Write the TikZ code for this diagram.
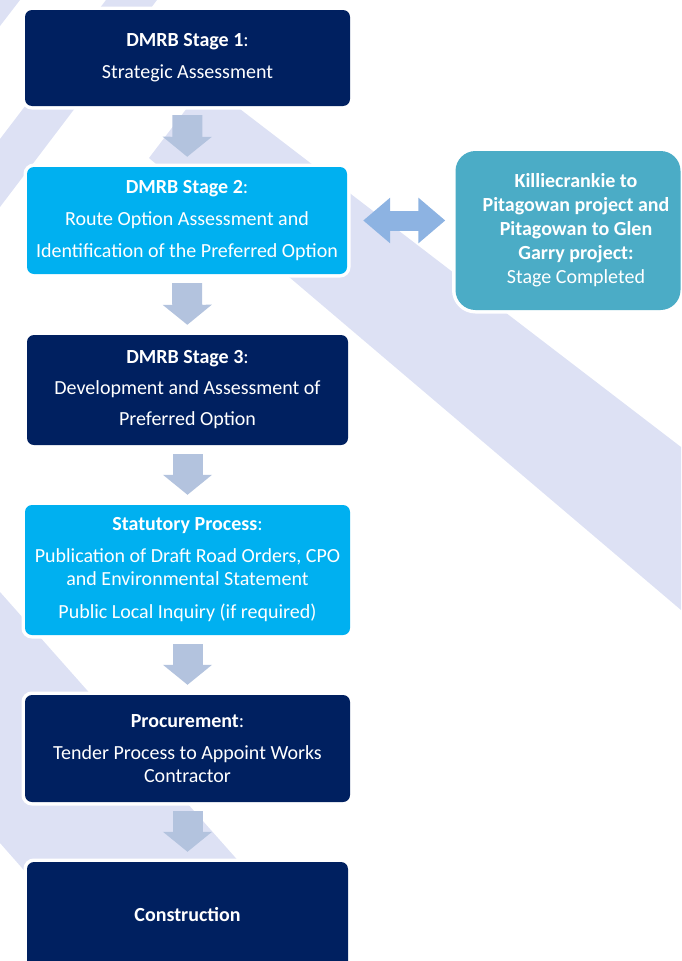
\documentclass[tikz,border=0pt]{standalone}
\usepackage{fontspec}
\setmainfont{Carlito}
\usetikzlibrary{arrows.meta}

\definecolor{stagenavy}{HTML}{002060}
\definecolor{stagesky}{HTML}{00B0F0}
\definecolor{stageteal}{HTML}{4BACC6}
\definecolor{bandlav}{HTML}{DDE1F4}
\definecolor{flowblue}{HTML}{B3C3DE}
\definecolor{linkblue}{HTML}{8DB3E2}

\begin{document}
\begin{tikzpicture}[x=1pt, y=-1pt]
\tikzset{ stagebox/.style={rounded corners=7pt, inner sep=0pt, text=white, align=center,
            font=\fontsize{20}{23}\selectfont, preaction={draw=white, line width=7pt}},
          flowarrow/.style={draw=flowblue, line width=30pt, -{Triangle[width=48pt,length=20pt]},
            shorten <=9pt, shorten >=10pt},
          linkarrow/.style={draw=linkblue, line width=20pt,
            {Triangle[width=44pt,length=27pt]}-{Triangle[width=44pt,length=27pt]},
            shorten <=16pt, shorten >=10pt} }
\useasboundingbox (0,0) rectangle (681,961);
%\draw [lightgray, dashed](0,0) grid[step=50] (681,961);

% background bands
\fill [bandlav] (0,0) -- (20,0) -- (0,26) -- cycle;
\fill [bandlav] (106,0) -- (157,0) -- (0,207) -- (0,139) -- cycle;
\fill [bandlav] (206,83) -- (681,447) -- (681,610) -- (149,158) -- cycle;
\fill [bandlav] (0,592) -- (327,961) -- (104,961) -- (0,843) -- cycle;

\node [stagebox, fill=stagenavy, minimum width=325pt, minimum height=96pt] (s1) at (187.5,58)
  {\textbf{DMRB Stage 1}:\\[9pt] Strategic Assessment};
\node [stagebox, fill=stagesky, minimum width=320pt, minimum height=107pt] (s2) at (187,220.5)
  {\textbf{DMRB Stage 2}:\\[9pt] Route Option Assessment and\\[9pt] Identification of the Preferred Option};
\node [stagebox, fill=stagenavy, minimum width=321pt, minimum height=110pt] (s3) at (187.5,390)
  {\textbf{DMRB Stage 3}:\\[8pt] Development and Assessment of\\[8pt] Preferred Option};
\node [stagebox, fill=stagesky, minimum width=325pt, minimum height=130pt] (s4) at (187.5,570)
  {\textbf{Statutory Process}:\\[9pt] Publication of Draft Road Orders, CPO\\ and Environmental Statement\\[10pt] Public Local Inquiry (if required)};
\node [stagebox, fill=stagenavy, minimum width=325pt, minimum height=107pt] (s5) at (187.5,748.5)
  {\textbf{Procurement}:\\[9pt] Tender Process to Appoint Works\\ Contractor};
\node [stagebox, fill=stagenavy, minimum width=321pt, minimum height=106pt] (s6) at (187.5,915)
  {\textbf{Construction}};

\node [stagebox, fill=stageteal, rounded corners=20pt, minimum width=225pt, minimum height=159pt,
       font=\fontsize{20}{24}\selectfont] (kp) at (568,230.5)
  {\hspace*{16pt}\textbf{Killiecrankie to}\\ \hspace*{16pt}\textbf{Pitagowan project and}\\
   \hspace*{16pt}\textbf{Pitagowan to Glen}\\ \hspace*{16pt}\textbf{Garry project:}\\ \hspace*{16pt}Stage Completed};

\draw [flowarrow] (s1) -- (s2);
\draw [flowarrow] (s2) -- (s3);
\draw [flowarrow] (s3) -- (s4);
\draw [flowarrow] (s4) -- (s5);
\draw [flowarrow] (s5) -- (s6);

\draw [linkarrow] (s2.east) -- (s2.east -| kp.west);

\end{tikzpicture}
\end{document}
